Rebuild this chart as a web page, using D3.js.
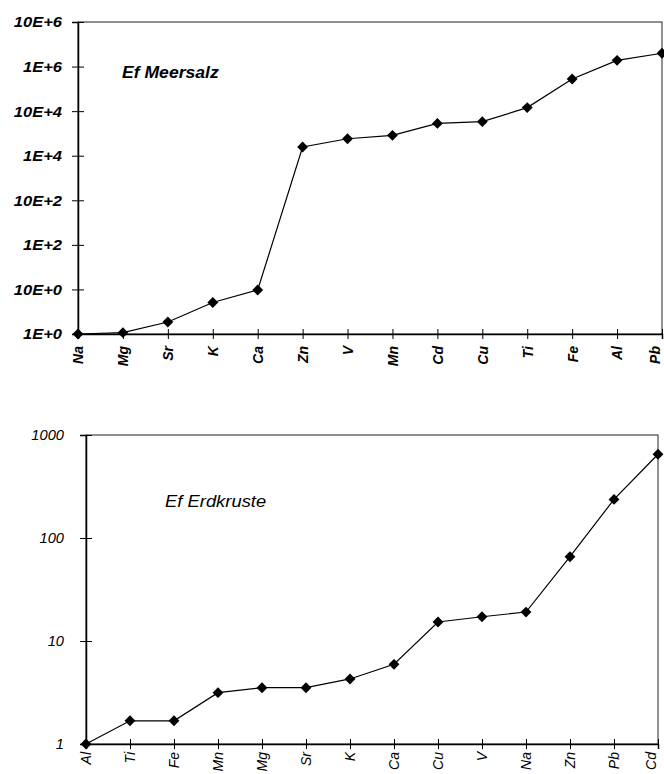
<!DOCTYPE html>
<html>
<head>
<meta charset="utf-8">
<script src="https://cdn.jsdelivr.net/npm/d3@7"></script>
<style>
  html, body { margin: 0; padding: 0; background: #fff; }
  svg { display: block; font-family: Arial, "Liberation Sans", sans-serif; }
</style>
</head>
<body>
<svg id="chart" width="664" height="774"></svg>
<script>
// Enrichment factors relative to sea salt
const seaElements = ["Na", "Mg", "Sr", "K", "Ca", "Zn", "V", "Mn", "Cd", "Cu", "Ti", "Fe", "Al", "Pb"];
const seaValues = [1, 1.07, 1.86, 5.1, 9.7, 15700, 24000, 28700, 53000, 58000, 120000, 526000, 1380000, 1990000];
const seaTickValues = [1, 10, 100, 1000, 1e4, 1e5, 1e6, 1e7];
const seaTickLabels = ["1E+0", "10E+0", "1E+2", "10E+2", "1E+4", "10E+4", "1E+6", "10E+6"];

// Enrichment factors relative to the earth's crust
const crustElements = ["Al", "Ti", "Fe", "Mn", "Mg", "Sr", "K", "Ca", "Cu", "V", "Na", "Zn", "Pb", "Cd"];
const crustValues = [1, 1.68, 1.68, 3.15, 3.52, 3.52, 4.28, 5.94, 15.3, 17.2, 19.1, 65.8, 237, 650];
const crustTickValues = [1, 10, 100, 1000];
const crustTickLabels = ["1", "10", "100", "1000"];

const svg = d3.select("#chart");

function panel(opts) {
  const { left, right, top, bottom, elements, values, tickValues, tickLabels,
          title, titleX, titleY, titleWeight, titleStretch,
          yLabelWeight, yLabelSize, yStretch, yLabelGap,
          xLabelWeight, xLabelSize, xLabelGap } = opts;

  const x = d3.scalePoint().domain(elements).range([left, right]);
  const y = d3.scaleLog().domain([tickValues[0], tickValues[tickValues.length - 1]]).range([bottom, top]);

  const g = svg.append("g");

  // plot frame
  g.append("rect")
    .attr("x", left).attr("y", top)
    .attr("width", right - left).attr("height", bottom - top)
    .attr("fill", "none").attr("stroke", "#222").attr("stroke-width", 1);

  // y axis with ticks crossing the axis line
  const yAxis = d3.axisLeft(y)
    .tickValues(tickValues)
    .tickFormat((d, i) => tickLabels[i])
    .tickSize(6).tickPadding(10);
  const ya = g.append("g").attr("transform", `translate(${left},0)`).call(yAxis);
  ya.select(".domain").attr("stroke", "#000").attr("stroke-width", 1.5);
  ya.selectAll(".tick line").attr("x2", 6).attr("x1", -6).attr("stroke", "#000");
  ya.selectAll(".tick text")
    .attr("font-size", yLabelSize).attr("font-style", "italic").attr("font-weight", yLabelWeight)
    .attr("fill", "#000").attr("dy", "0.35em")
    .attr("x", -yLabelGap / yStretch)
    .attr("transform", `scale(${yStretch},1)`);

  // x axis with rotated element labels
  const xAxis = d3.axisBottom(x).tickSize(5).tickPadding(6);
  const xa = g.append("g").attr("transform", `translate(0,${bottom})`).call(xAxis);
  xa.select(".domain").attr("stroke", "#000").attr("stroke-width", 1.5);
  xa.selectAll(".tick line").attr("y1", -5).attr("y2", 5).attr("stroke", "#000");
  xa.selectAll(".tick text")
    .attr("font-size", xLabelSize).attr("font-style", "italic").attr("font-weight", xLabelWeight)
    .attr("fill", "#000")
    .attr("text-anchor", "end")
    .attr("transform", "rotate(-90)")
    .attr("x", -xLabelGap)
    .attr("y", (d, i) => i === elements.length - 1 ? -7 : 0)
    .attr("dy", "0.35em");

  // series line
  const line = d3.line().x((d, i) => x(elements[i])).y(d => y(d));
  g.append("path").datum(values)
    .attr("d", line).attr("fill", "none")
    .attr("stroke", "#000").attr("stroke-width", 1.2);

  // diamond markers
  const diamond = d3.symbol().type(d3.symbolDiamond2).size(75);
  g.selectAll(".pt").data(values).join("path")
    .attr("class", "pt")
    .attr("d", diamond)
    .attr("transform", (d, i) => `translate(${x(elements[i])},${y(d)})`)
    .attr("fill", "#000");

  // panel title
  g.append("text")
    .attr("transform", `translate(${titleX},${titleY}) scale(${titleStretch},1)`)
    .attr("font-size", 16).attr("font-style", "italic").attr("font-weight", titleWeight)
    .attr("fill", "#000")
    .text(title);
}

panel({
  left: 78, right: 662, top: 22, bottom: 334,
  elements: seaElements, values: seaValues,
  tickValues: seaTickValues, tickLabels: seaTickLabels,
  title: "Ef Meersalz", titleX: 122, titleY: 78, titleWeight: "bold", titleStretch: 1.1,
  yLabelWeight: "bold", yLabelSize: 14, yStretch: 1.18, yLabelGap: 16,
  xLabelWeight: "bold", xLabelSize: 14, xLabelGap: 12
});

panel({
  left: 86, right: 658, top: 435, bottom: 744,
  elements: crustElements, values: crustValues,
  tickValues: crustTickValues, tickLabels: crustTickLabels,
  title: "Ef Erdkruste", titleX: 165, titleY: 507, titleWeight: "normal", titleStretch: 1.15,
  yLabelWeight: "normal", yLabelSize: 14, yStretch: 1.05, yLabelGap: 22,
  xLabelWeight: "normal", xLabelSize: 14, xLabelGap: 8
});
</script>
</body>
</html>
